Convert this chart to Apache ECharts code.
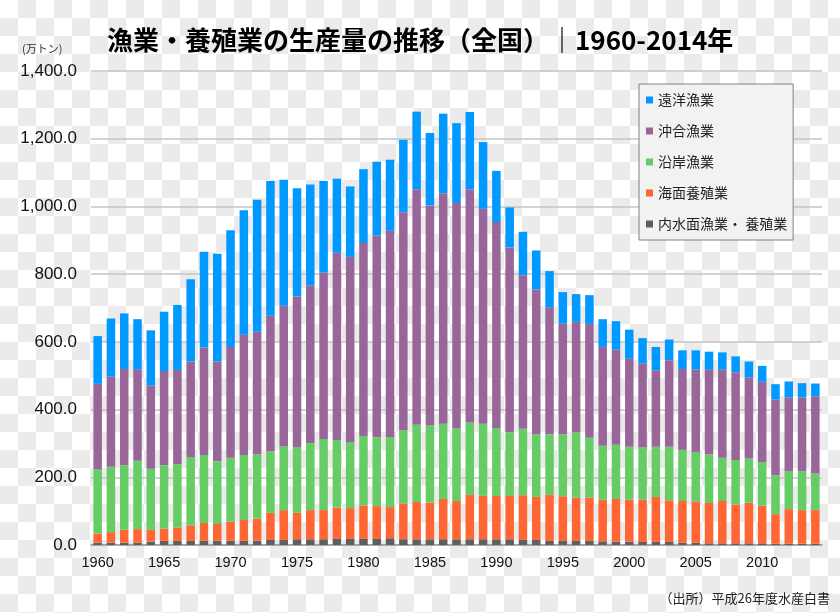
<!DOCTYPE html>
<html>
<head>
<meta charset="utf-8">
<script src="https://cdn.jsdelivr.net/npm/echarts@6/dist/echarts.min.js"></script>
<style>
html,body{margin:0;padding:0;}
body{width:840px;height:613px;background:repeating-conic-gradient(#ebebeb 0 25%, #ffffff 0 50%) 0 0/36px 36px;}
#chart{width:840px;height:613px;}
</style>
</head>
<body>
<div id="chart"></div>
<script>
const years = [];
for (let y = 1960; y <= 2014; y++) years.push(String(y));

const seriesNames = ['遠洋漁業', '沖合漁業', '沿岸漁業', '海面養殖業', '内水面漁業・ 養殖業'];

// 万トン
const distant = [141,172,164,149,163,175,192,243,283,318,345,368,390,398,372,320,298,270,219,208,218,218,210,214,229,214,235,236,228,197,151,118,128,115,107,93,82,85,82,84,86,75,69,61,55,57,53,51,47,47,47,45,47,42,38];
const offshore = [252,266,284,269,246,278,278,282,317,295,327,355,362,401,416,445,466,492,553,548,570,596,609,644,696,650,681,665,689,635,609,546,454,428,375,327,327,336,292,281,260,248,226,256,239,243,250,260,259,240,237,224,218,218,228];
const coastal = [190,193,191,202,180,188,187,202,201,185,189,192,190,181,188,194,198,210,199,194,205,203,207,216,228,228,222,215,214,213,200,188,196,185,179,183,192,177,159,160,156,154,148,158,151,147,144,128,131,130,129,115,112,115,108];
const marineAqua = [27,31,38,40,35,36,40,46,52,49,56,62,65,80,88,78,86,86,93,91,99,97,92,106,110,108,119,113,131,128,128,128,132,127,136,132,128,128,123,126,124,125,133,123,123,121,119,125,115,120,111,87,102,99,99];
const inland = [7,7,7,7,10,12,12,12,13,13,13,12,13,15,15,17,17,17,18,18,18,18,20,17,17,17,17,17,17,17,17,17,15,15,12,12,12,12,11,10,10,9,9,9,7,7,5,5,5,5,5,4,4,4,4];

const yTicks = [0, 200, 400, 600, 800, 1000, 1200, 1400];
const colors = ['#0099ff', '#996699', '#66cc66', '#ff6633', '#5f5f5f'];

const chart = echarts.init(document.getElementById('chart'), null, {renderer: 'canvas'});
const fontJP = '"Noto Sans CJK JP", "Liberation Sans", sans-serif';

function mk(name, data, color) {
  return {
    name: name, type: 'bar', stack: 'total', data: data,
    barCategoryGap: '36%',
    itemStyle: {color: color},
    emphasis: {disabled: true}
  };
}

chart.setOption({
  animation: false,
  backgroundColor: 'transparent',
  textStyle: {fontFamily: fontJP},
  title: [
    {text: '漁業・養殖業の生産量の推移（全国）｜1960-2014年', left: 102, top: 22,
     textStyle: {fontSize: 26, fontWeight: 'bold', color: '#000', fontFamily: fontJP}},
    {text: '(万トン)', left: 17, top: 38,
     textStyle: {fontSize: 11, fontWeight: 'normal', color: '#333', fontFamily: fontJP}},
    {text: '（出所）平成26年度水産白書', right: 5, top: 587,
     textStyle: {fontSize: 13, fontWeight: 'normal', color: '#222', fontFamily: fontJP}}
  ],
  legend: {
    orient: 'vertical', left: 639, top: 84,
    data: seriesNames,
    icon: 'rect', itemWidth: 7, itemHeight: 7, itemGap: 17,
    padding: [9, 6, 9, 7],
    backgroundColor: '#f2f2f2', borderColor: '#808080', borderWidth: 1,
    textStyle: {fontSize: 14, color: '#222', lineHeight: 14, fontFamily: fontJP},
    selectedMode: false
  },
  grid: {left: 91, right: 18, top: 71, bottom: 68, containLabel: false},
  xAxis: {
    type: 'category', data: years,
    axisLine: {lineStyle: {color: '#999', width: 1.5}},
    axisTick: {interval: 4, length: 5, lineStyle: {color: '#999'}},
    axisLabel: {interval: 4, fontSize: 14.5, color: '#111', margin: 10, fontFamily: '"Liberation Sans", Arial, sans-serif'}
  },
  yAxis: {
    type: 'value', min: 0, max: 1400, interval: 200,
    axisLine: {show: false}, axisTick: {show: false},
    splitLine: {lineStyle: {color: '#c4c4c4', width: 1.5}},
    axisLabel: {fontSize: 17, color: '#111', margin: 14, fontFamily: '"Liberation Sans", Arial, sans-serif',
      formatter: v => yTicks.includes(v) ? v.toLocaleString('en-US', {minimumFractionDigits: 1, maximumFractionDigits: 1}) : ''}
  },
  series: [
    mk(seriesNames[4], inland, colors[4]),
    mk(seriesNames[3], marineAqua, colors[3]),
    mk(seriesNames[2], coastal, colors[2]),
    mk(seriesNames[1], offshore, colors[1]),
    mk(seriesNames[0], distant, colors[0])
  ]
});
</script>
</body>
</html>
